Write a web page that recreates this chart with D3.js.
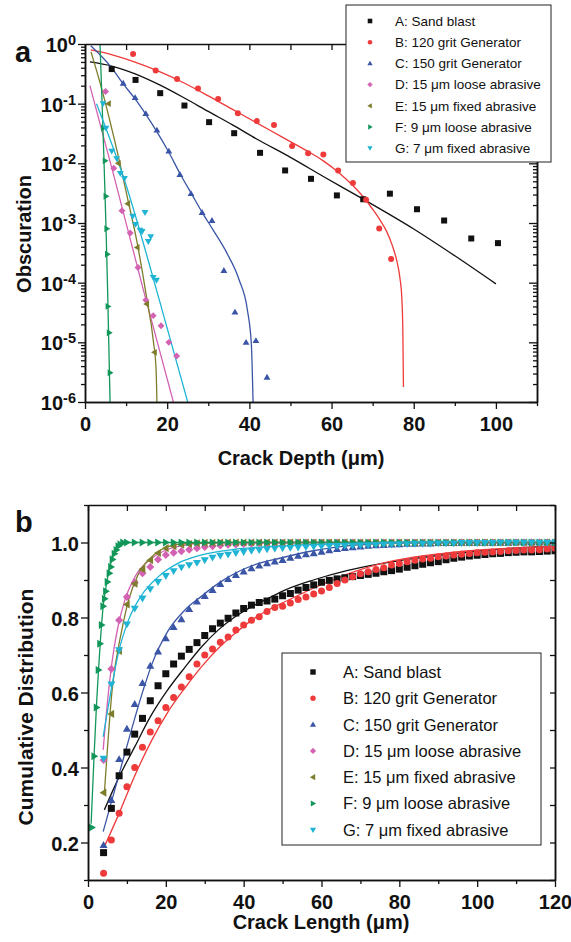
<!DOCTYPE html>
<html>
<head>
<meta charset="utf-8">
<script src="https://cdnjs.cloudflare.com/ajax/libs/d3/7.8.5/d3.min.js"></script>
<style>
body { margin: 0; background: #fff; }
svg text { font-family: "Liberation Sans", Arial, sans-serif; fill: #111; }
</style>
</head>
<body>
<svg id="chart" width="571" height="942"></svg>
<script>
// series names, colours and marker shapes
var names = ['A: Sand blast', 'B: 120 grit Generator', 'C: 150 grit Generator',
    'D: 15 \u03bcm loose abrasive', 'E: 15 \u03bcm fixed abrasive',
    'F: 9 \u03bcm loose abrasive', 'G: 7 \u03bcm fixed abrasive'];
var colors = ['#111111', '#ee3a3a', '#3a55a6', '#d462b2', '#7d7d2c', '#12975a', '#1fb4d4'];
var shapes = ['square', 'circle', 'up', 'diamond', 'left', 'right', 'down'];

// panel a: obscuration vs crack depth (points)
var obsA = [[6.5,0.38],[12.3,0.25],[18.3,0.15],[24.2,0.093],[30.2,0.049],[36.3,0.032],[42.6,0.015],[48.7,0.0076],[55.0,0.0055],[61.3,0.0029],[67.7,0.0025],[74.2,0.0031],[80.8,0.0017],[87.4,0.0011],[94.0,0.00055],[100.5,0.00046]];
var obsB = [[11.7,0.68],[17.2,0.36],[22.4,0.26],[27.5,0.18],[32.4,0.12],[37.2,0.069],[41.8,0.051],[46.0,0.044],[50.4,0.0195],[54.3,0.0148],[58.0,0.0141],[61.6,0.0076],[65.2,0.0047],[68.4,0.00245],[71.6,0.00081],[74.5,0.00025]];
var obsC = [[9.3,0.22],[12.2,0.126],[14.8,0.068],[17.5,0.036],[20.4,0.016],[23.1,0.0065],[25.8,0.0031],[28.5,0.0015],[30.9,0.0011],[33.8,0.00016],[36.5,0.000032],[39.2,0.00001],[41.6,0.0000107],[44.3,0.0000026]];
var obsD = [[5.0,0.16],[7.0,0.0083],[9.0,0.0016],[11.0,0.00068],[12.9,0.00018],[14.8,0.000051],[16.6,0.000028],[18.5,0.000019],[20.4,0.00001],[22.3,0.0000059]];
var obsE = [[5.7,0.1],[8.1,0.01],[10.4,0.0021],[12.7,0.00039],[15.0,0.000044],[16.9,0.0000068]];
var obsF = [[4.5,0.039],[4.9,0.011],[5.1,0.0028],[5.3,0.0008],[5.45,0.0003],[5.6,0.00004],[5.9,0.0000145],[6.1,0.0000031]];
var obsG = [[4.4,0.1],[5.1,0.039],[6.5,0.016],[7.7,0.012],[8.6,0.0068],[9.6,0.0056],[11.6,0.0013],[12.3,0.00095],[13.4,0.00076],[13.9,0.00072],[14.6,0.0015],[15.4,0.00049],[16.0,0.00059],[16.6,0.000123],[17.4,0.00011]];

// panel a: fitted curves
var fitObsA = [[1.2,0.5],[6.5,0.427],[12.2,0.316],[18.3,0.204],[24.3,0.123],[30,0.0741],[36,0.0437],[42,0.0251],[50,0.0126],[58,0.00603],[67.7,0.00251],[80,0.000794],[90,0.000282],[100,0.0000955]];
var fitObsB = [[1.4,0.794],[6,0.676],[12,0.501],[18,0.347],[24,0.224],[30,0.135],[36,0.0794],[42,0.0468],[48,0.0275],[54,0.0162],[58,0.011],[62,0.00676],[65,0.00437],[67.7,0.00275],[70,0.0017],[71.8,0.00112],[73.4,0.000724],[74.8,0.000417],[75.9,0.000229],[76.7,0.000112],[77.1,0.0000562],[77.35,0.0000158],[77.5,0.00000178]];
var fitObsC = [[1.4,0.933],[6.5,0.398],[9.3,0.214],[12.2,0.12],[14.8,0.0661],[17.4,0.0347],[20.3,0.0158],[23.1,0.00676],[26,0.00302],[28.5,0.00151],[31.2,0.000759],[34.5,0.000316],[37.5,0.000112],[39.5,0.0000355],[40.5,0.0000089],[40.9,0.000001]];
var fitObsD = [[1.2,0.2],[7,0.0063],[14.2,0.0000759],[21.5,0.000001]];
var fitObsE = [[1.46,0.741],[3.7,0.219],[6.1,0.0501],[8.5,0.01],[10.4,0.00251],[12.6,0.000501],[15,0.0000562],[16.6,0.000011],[17.3,0.00000347],[17.5,0.000001]];
var fitObsF = [[3.65,1],[5.5,0.000076],[6.1,0.000001]];
var fitObsG = [[2.8,0.1],[9.7,0.005],[17.4,0.0000759],[25,0.000001]];

// panel b: cumulative distribution vs crack length
var lengthX = [4,6,8,10,12,14,16,18,20,22,24,26,28,30,32,34,36,38,40,42,44,46,48,50,52,54,56,58,60,62,64,66,68,70,72,74,76,78,80,82,84,86,88,90,92,94,96,98,100,102,104,106,108,110,112,114,116,118,120];
var lengthXF = [1,1.6,2.2,2.7,3.1,3.5,3.9,4.3,4.6,5,5.5,5.9,6.3,6.8,7.3,7.8,8.3,9,10,12,14,16,18,20,22,24,26,28,30,32,34,36,38,40,42,44,46,48,50,52,54,56,58,60,62,64,66,68,70,72,74,76,78,80,82,84,86,88,90,92,94,96,98,100,102,104,106,108,110,112,114,116,118,120];
var cumA = [0.173,0.291,0.378,0.441,0.489,0.531,0.578,0.618,0.65,0.676,0.697,0.715,0.733,0.752,0.77,0.785,0.798,0.812,0.824,0.833,0.84,0.844,0.849,0.858,0.864,0.873,0.88,0.887,0.894,0.899,0.903,0.906,0.909,0.912,0.915,0.918,0.922,0.925,0.929,0.934,0.938,0.942,0.946,0.949,0.954,0.958,0.961,0.964,0.966,0.968,0.97,0.971,0.973,0.974,0.975,0.975,0.976,0.977,0.978];
var cumB = [0.118,0.207,0.278,0.349,0.4,0.454,0.495,0.525,0.56,0.587,0.615,0.642,0.676,0.7,0.716,0.734,0.748,0.767,0.78,0.793,0.802,0.816,0.827,0.83,0.839,0.848,0.855,0.863,0.871,0.88,0.891,0.9,0.909,0.917,0.922,0.928,0.933,0.94,0.944,0.949,0.953,0.956,0.958,0.962,0.964,0.967,0.969,0.971,0.973,0.974,0.975,0.976,0.978,0.979,0.98,0.98,0.981,0.983,0.985];
var cumC = [0.193,0.313,0.422,0.503,0.569,0.625,0.671,0.709,0.744,0.774,0.795,0.822,0.842,0.857,0.873,0.889,0.902,0.913,0.922,0.931,0.938,0.944,0.949,0.953,0.959,0.964,0.968,0.971,0.975,0.979,0.982,0.985,0.987,0.989,0.991,0.992,0.993,0.994,0.995,0.996,0.996,0.997,0.997,0.998,0.998,0.998,0.999,0.999,0.999,0.999,0.999,0.999,0.999,1,1,1,1,1,1];
var cumD = [0.42,0.663,0.793,0.855,0.893,0.918,0.935,0.955,0.967,0.973,0.977,0.981,0.985,0.988,0.99,0.992,0.994,0.995,0.996,0.997,0.998,0.998,0.999,0.999,0.999,1,1,1,1,1,1,1,1,1,1,1,1,1,1,1,1,1,1,1,1,1,1,1,1,1,1,1,1,1,1,1,1,1,1];
var cumE = [0.333,0.543,0.711,0.835,0.89,0.929,0.953,0.972,0.985,0.99,0.994,0.996,0.998,0.999,0.999,1,1,1,1,1,1,1,1,1,1,1,1,1,1,1,1,1,1,1,1,1,1,1,1,1,1,1,1,1,1,1,1,1,1,1,1,1,1,1,1,1,1,1,1];
var cumF = [0.24,0.43,0.56,0.66,0.73,0.78,0.83,0.85,0.87,0.895,0.918,0.935,0.955,0.97,0.98,0.99,0.995,1,1,1,1,1,1,1,1,1,1,1,1,1,1,1,1,1,1,1,1,1,1,1,1,1,1,1,1,1,1,1,1,1,1,1,1,1,1,1,1,1,1,1,1,1,1,1,1,1,1,1,1,1,1,1,1,1];
var cumG = [0.424,0.622,0.713,0.782,0.824,0.851,0.876,0.895,0.911,0.924,0.934,0.94,0.946,0.953,0.96,0.965,0.968,0.972,0.975,0.978,0.98,0.982,0.984,0.985,0.986,0.987,0.988,0.989,0.99,0.991,0.991,0.992,0.992,0.993,0.993,0.994,0.995,0.995,0.996,0.996,0.997,0.997,0.997,0.998,0.998,0.998,0.999,0.999,0.999,0.999,0.999,1,1,1,1,1,1,1,1];

// panel b: fitted curves
var fitCumA = [[4.2,0.287],[8,0.375],[12,0.455],[16,0.535],[20.2,0.603],[24.9,0.667],[29.2,0.722],[33.5,0.767],[37.8,0.802],[42.1,0.829],[46.3,0.851],[50.6,0.873],[57.9,0.9],[66.5,0.925],[75,0.943],[83.6,0.957],[92.2,0.968],[100.7,0.978],[109.3,0.985],[120,0.99]];
var fitCumB = [[4.2,0.189],[7.8,0.273],[12.1,0.38],[16.4,0.473],[20.6,0.549],[24.9,0.612],[29.2,0.669],[33.5,0.718],[37.8,0.758],[42.1,0.793],[46.3,0.82],[50.6,0.842],[57.9,0.878],[66.5,0.915],[75,0.943],[83.6,0.961],[92.2,0.972],[100.7,0.98],[109.3,0.985],[120,0.99]];
var fitCumC = [[3.9,0.229],[9,0.42],[14.2,0.607],[16.4,0.675],[20.6,0.765],[24.9,0.82],[29.2,0.857],[33.5,0.891],[37.8,0.918],[42.1,0.938],[49.3,0.958],[57.9,0.978],[66.5,0.991],[75,0.997],[90,1],[120,1]];
var fitCumD = [[3.9,0.447],[5.05,0.58],[6.5,0.705],[7.8,0.78],[9.5,0.847],[12.1,0.909],[16.4,0.958],[20.6,0.982],[24.9,0.993],[29.2,0.998],[40,1],[120,1]];
var fitCumE = [[4.2,0.33],[6.2,0.607],[8.7,0.767],[10.4,0.845],[12.9,0.915],[16.4,0.962],[20.6,0.989],[25,0.997],[35,1],[120,1]];
var fitCumF = [[0.8,0.25],[1.6,0.44],[2.2,0.57],[2.7,0.66],[3.2,0.74],[3.9,0.83],[4.6,0.88],[5.5,0.93],[6.5,0.965],[7.5,0.985],[8.5,0.997],[10,1],[120,1]];
var fitCumG = [[3.9,0.482],[6.1,0.615],[7.8,0.705],[10.4,0.793],[13.8,0.86],[18.1,0.909],[23.2,0.945],[29.2,0.967],[37.8,0.982],[50.6,0.991],[70,0.997],[90,0.999],[120,1]];

var svg = d3.select('#chart');

// marker outline centred on 0,0, s is half width
function shapePath(shape, s) {
    var a = 1.15 * s, b = 0.8 * s;
    switch (shape) {
        case 'square': return 'M' + -s + ',' + -s + 'h' + 2 * s + 'v' + 2 * s + 'h' + -2 * s + 'Z';
        case 'circle': return 'M' + s + ',0A' + s + ',' + s + ' 0 1,1 ' + -s + ',0A' + s + ',' + s + ' 0 1,1 ' + s + ',0Z';
        case 'diamond': return 'M0,' + -a + 'L' + a + ',0L0,' + a + 'L' + -a + ',0Z';
        case 'up': return 'M0,' + -a + 'L' + a + ',' + b + 'L' + -a + ',' + b + 'Z';
        case 'down': return 'M0,' + a + 'L' + a + ',' + -b + 'L' + -a + ',' + -b + 'Z';
        case 'left': return 'M' + -a + ',0L' + b + ',' + -a + 'L' + b + ',' + a + 'Z';
        case 'right': return 'M' + a + ',0L' + -b + ',' + -a + 'L' + -b + ',' + a + 'Z';
    }
}

function styleAxis(g) {
    g.select('.domain').attr('stroke', '#111').attr('stroke-width', 1.5);
    g.selectAll('.tick line').attr('stroke', '#111').attr('stroke-width', 1.3);
    g.selectAll('text').attr('font-family', '"Liberation Sans", Arial, sans-serif')
        .attr('font-size', 20).attr('font-weight', 'bold').attr('fill', '#111');
}

// draws one panel: curves, markers, axes frame
function drawPanel(p) {
    var x = p.x, y = p.y;
    var x0 = x.range()[0], x1 = x.range()[1], y0 = y.range()[0], y1 = y.range()[1];

    svg.append('clipPath').attr('id', p.id + 'clip').append('rect')
        .attr('x', x0).attr('y', y1).attr('width', x1 - x0).attr('height', y0 - y1);
    var plot = svg.append('g').attr('clip-path', 'url(#' + p.id + 'clip)');

    var line = d3.line().x(function (d) { return x(d[0]); })
        .y(function (d) { return y(d[1]); }).curve(d3.curveMonotoneX);

    p.fits.forEach(function (f, i) {
        plot.append('path').datum(f).attr('d', line).attr('fill', 'none')
            .attr('stroke', colors[i]).attr('stroke-width', 1.3);
    });
    p.points.forEach(function (pts, i) {
        plot.selectAll('.m' + i).data(pts).enter().append('path')
            .attr('transform', function (d) { return 'translate(' + x(d[0]) + ',' + y(d[1]) + ')'; })
            .attr('d', shapePath(shapes[i], p.size)).attr('fill', colors[i]);
    });

    // bottom and top x axes
    var bottom = svg.append('g').attr('transform', 'translate(0,' + y0 + ')')
        .call(d3.axisBottom(x).tickValues(p.xMajor).tickSize(7).tickSizeOuter(0));
    styleAxis(bottom);
    bottom.selectAll('text').attr('dy', null).attr('y', p.xLabelY);
    svg.append('g').attr('transform', 'translate(0,' + y0 + ')')
        .call(d3.axisBottom(x).tickValues(p.xMinor).tickSize(4).tickSizeOuter(0).tickFormat(''))
        .call(styleAxis);
    svg.append('g').attr('transform', 'translate(0,' + y1 + ')')
        .call(d3.axisBottom(x).tickValues(p.xMajor.concat(p.xMinor)).tickSize(6).tickSizeOuter(0).tickFormat(''))
        .call(styleAxis);

    // left and right y axes
    var left = svg.append('g').attr('transform', 'translate(' + x0 + ',0)')
        .call(d3.axisLeft(y).tickValues(p.yMajor).tickSize(7).tickSizeOuter(0).tickFormat(p.yFormat));
    styleAxis(left);
    left.selectAll('text').attr('dy', null).attr('y', 7.5).attr('x', p.yLabelX - x0);
    svg.append('g').attr('transform', 'translate(' + x0 + ',0)')
        .call(d3.axisLeft(y).tickValues(p.yMinor).tickSize(4).tickSizeOuter(0).tickFormat(''))
        .call(styleAxis);
    svg.append('g').attr('transform', 'translate(' + x1 + ',0)')
        .call(d3.axisLeft(y).tickValues(p.yMajor).tickSize(p.rightMajor).tickSizeOuter(0).tickFormat(''))
        .call(styleAxis);
    svg.append('g').attr('transform', 'translate(' + x1 + ',0)')
        .call(d3.axisLeft(y).tickValues(p.yMinor).tickSize(p.rightMinor).tickSizeOuter(0).tickFormat(''))
        .call(styleAxis);

    return left;
}

// ---- panel a ----
var xa = d3.scaleLinear().domain([0, 110]).range([85, 537]);
var ya = d3.scaleLog().domain([1e-6, 1]).range([402, 44]);
var decades = [1e-6, 1e-5, 1e-4, 1e-3, 1e-2, 1e-1, 1];
var logMinor = [];
decades.slice(0, 6).forEach(function (d) {
    for (var m = 2; m <= 9; m++) { logMinor.push(d * m); }
});

var leftA = drawPanel({
    id: 'a', x: xa, y: ya, size: 3,
    points: [obsA, obsB, obsC, obsD, obsE, obsF, obsG],
    fits: [fitObsA, fitObsB, fitObsC, fitObsD, fitObsE, fitObsF, fitObsG],
    xMajor: [0, 20, 40, 60, 80, 100], xMinor: [10, 30, 50, 70, 90, 110], xLabelY: 29,
    yMajor: decades, yMinor: logMinor, yFormat: function () { return ''; }, yLabelX: 76,
    rightMajor: 8, rightMinor: 4
});
// power of ten labels with superscripts
leftA.selectAll('.tick text').each(function (d) {
    var t = d3.select(this);
    t.append('tspan').text('10');
    t.append('tspan').attr('dy', -7).attr('font-size', 14.5).text(Math.round(Math.log10(d)));
});

// ---- panel b ----
var xb = d3.scaleLinear().domain([0, 120]).range([88, 555]);
var yb = d3.scaleLinear().domain([0.1, 1.1]).range([880, 505]);

function zipX(xs, ys) {
    return ys.map(function (v, i) { return [xs[i], v]; });
}

drawPanel({
    id: 'b', x: xb, y: yb, size: 3.5,
    points: [zipX(lengthX, cumA), zipX(lengthX, cumB), zipX(lengthX, cumC), zipX(lengthX, cumD),
        zipX(lengthX, cumE), zipX(lengthXF, cumF), zipX(lengthX, cumG)],
    fits: [fitCumA, fitCumB, fitCumC, fitCumD, fitCumE, fitCumF, fitCumG],
    xMajor: [0, 20, 40, 60, 80, 100, 120], xMinor: [10, 30, 50, 70, 90, 110], xLabelY: 29,
    yMajor: [0.2, 0.4, 0.6, 0.8, 1.0], yMinor: [0.1, 0.3, 0.5, 0.7, 0.9, 1.1],
    yFormat: d3.format('.1f'), yLabelX: 79,
    rightMajor: 5, rightMinor: 5
});

// ---- legends ----
function drawLegend(box, symX, textX, rowY, rowH, fontSize, s) {
    svg.append('rect').attr('x', box[0]).attr('y', box[1])
        .attr('width', box[2] - box[0]).attr('height', box[3] - box[1])
        .attr('fill', '#fff').attr('stroke', '#222').attr('stroke-width', 1);
    names.forEach(function (n, i) {
        var cy = rowY + i * rowH;
        svg.append('path').attr('transform', 'translate(' + symX + ',' + cy + ')')
            .attr('d', shapePath(shapes[i], s)).attr('fill', colors[i]);
        svg.append('text').attr('x', textX).attr('y', cy + fontSize * 0.36)
            .attr('font-size', fontSize).text(n);
    });
}
drawLegend([346, 5, 551, 162], 370, 395, 21, 21.2, 13.5, 2.3);
drawLegend([282, 653, 541, 845], 313, 343, 672, 26.3, 16.5, 2.7);

// ---- titles ----
svg.append('text').attr('x', 301).attr('y', 465).attr('text-anchor', 'middle')
    .attr('font-size', 20).attr('font-weight', 'bold').text('Crack Depth (\u03bcm)');
svg.append('text').attr('x', 321).attr('y', 929).attr('text-anchor', 'middle')
    .attr('font-size', 20).attr('font-weight', 'bold').text('Crack Length (\u03bcm)');
svg.append('text').attr('transform', 'translate(31,234) rotate(-90)').attr('text-anchor', 'middle')
    .attr('font-size', 20).attr('font-weight', 'bold').text('Obscuration');
svg.append('text').attr('transform', 'translate(33,707) rotate(-90)').attr('text-anchor', 'middle')
    .attr('font-size', 21).attr('font-weight', 'bold').text('Cumulative Distribution');
svg.append('text').attr('x', 15).attr('y', 62).attr('font-size', 29).attr('font-weight', 'bold').text('a');
svg.append('text').attr('x', 15).attr('y', 532).attr('font-size', 29).attr('font-weight', 'bold').text('b');
</script>
</body>
</html>
